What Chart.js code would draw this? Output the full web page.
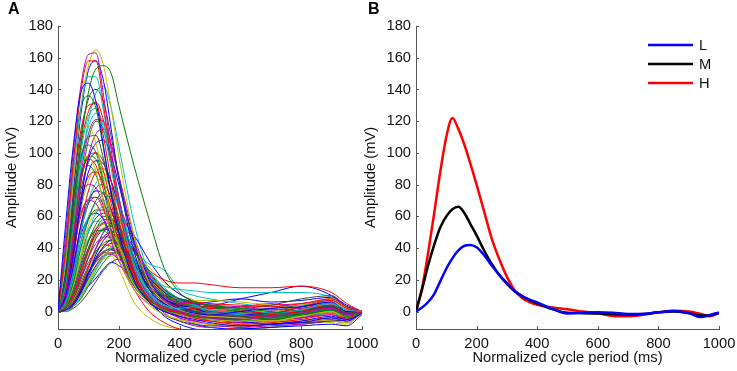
<!DOCTYPE html>
<html><head><meta charset="utf-8">
<script src="https://cdn.jsdelivr.net/npm/chart.js@4.4.1/dist/chart.umd.min.js"></script>
<style>
html,body{margin:0;padding:0;background:#fff;width:737px;height:371px;overflow:hidden;}
#cA{position:absolute;left:0;top:0;}
#cB{position:absolute;left:360px;top:0;}
</style></head><body>
<canvas id="cA" width="380" height="371"></canvas>
<canvas id="cB" width="377" height="371"></canvas>
<script>
// ---------- Panel A data (ms sample positions + cycle amplitudes in mV) ----------
const xA = [0,25,50,75,100,125,150,175,200,250,300,350,400,450,500,600,700,800,900,950,1000];

const highCycles = [
  [0,55,104,138,144,132,104,74,50,20,6,0,-3,-5,-7,-9,-8,-6,-3,-5,-1],
  [0,20,60,105,138,153,155,150,130,92,58,27,12,6,4,2,0,-2,1,-3,-1],
  [0,38,92,138,158,158,130,95,66,26,8,2,-1,-4,-6,-8,-7,-5,-2,-4,0],
  [0,34,86,128,148,148,126,96,68,30,11,4,2,3,1,2,-1,1,5,1,0],
  [0,48,100,142,162,163,136,102,72,30,10,3,0,-2,-4,-5,-3,-1,2,-2,0],
  [0,30,80,128,155,165,155,128,98,48,18,6,1,-2,-3,-4,-6,-3,0,-3,-1],
  [0,22,68,110,134,140,132,110,85,42,16,6,2,0,-2,-3,-1,1,3,-2,0],
  [0,26,76,124,152,158,145,115,84,38,14,5,1,-1,-2,0,2,3,6,0,0],
  [0,42,94,128,136,128,102,74,50,20,6,1,-1,-3,-4,-5,-4,-2,1,-3,-1],
  [0,30,76,114,130,131,110,82,58,24,8,2,0,-2,-3,-4,-2,0,2,-2,0]
];
const midHighCycles = [
  [0,18,58,100,123,128,115,90,65,28,9,3,1,-1,-1,-2,-4,-2,1,-3,-1],
  [0,14,46,86,112,121,120,106,86,48,22,9,6,5,4,3,1,2,5,1,0],
  [0,36,82,110,117,106,84,60,42,17,6,1,-2,-4,-5,-6,-6,-3,0,-4,-1],
  [0,20,60,96,110,111,96,74,54,24,9,3,1,0,-2,-3,-2,0,3,-1,0],
  [0,10,36,70,96,106,108,98,80,45,20,8,3,0,-3,-6,-8,-7,-4,-6,-1],
  [0,28,70,98,105,100,82,60,42,18,7,2,0,-2,-4,-5,-3,-1,1,-3,-1],
  [0,14,48,82,98,100,88,68,50,22,8,3,1,2,3,1,-1,3,7,2,0],
  [0,14,50,92,116,125,118,96,72,34,12,4,1,-1,-2,-3,-2,-1,2,-2,0],
  [0,8,32,70,98,112,115,104,84,44,18,7,2,0,-1,-2,-3,-1,2,-1,0],
  [0,32,74,96,98,88,68,48,33,14,4,-2,-5,-7,-8,-9,-7,-5,-6,-7,-1],
  [0,12,42,76,94,100,94,76,56,24,6,-2,-6,-8,-9,-9,-8,-7,-6,-5,-1],
  [0,10,34,66,88,95,93,82,66,34,14,5,2,0,-1,-2,-1,0,3,-1,0]
];
const midCycles = [
  [0,24,62,86,92,86,70,52,37,16,6,1,-1,-3,-4,-4,-5,-2,0,-3,-1],
  [0,12,40,70,85,88,80,64,48,22,8,3,5,6,5,4,3,5,8,3,0],
  [0,6,24,50,70,81,84,78,65,42,24,13,7,4,1,-1,-2,-1,3,-1,0],
  [0,16,48,72,80,78,66,50,36,16,6,0,-3,-6,-8,-10,-9,-8,-6,-7,-1],
  [0,10,34,64,82,90,88,76,60,30,12,5,2,0,-1,-2,-1,4,8,2,0],
  [0,6,24,50,68,78,80,72,60,32,16,10,8,6,4,2,4,8,10,3,0],
  [0,8,28,54,70,76,74,64,50,30,16,8,4,2,-1,-2,-2,-1,2,-2,0],
  [0,4,18,40,58,70,75,70,60,32,14,10,8,6,3,0,-3,-1,4,0,0],
  [0,12,38,60,71,72,64,50,38,22,11,6,3,-1,-2,-3,-2,0,2,-1,0],
  [0,5,20,44,60,68,70,64,54,34,22,16,14,13,12,12,12,12,9,3,0],
  [0,14,42,62,70,68,58,44,32,14,5,1,-1,-3,-4,-4,-3,-1,1,-2,0],
  [0,4,16,36,54,64,68,64,54,30,16,10,8,7,7,6,4,2,6,1,0],
  [0,6,22,44,58,64,64,56,46,28,15,8,4,-1,-2,-3,-2,-1,2,-2,-1],
  [0,8,28,48,59,62,58,48,37,18,7,-3,-8,-11,-12,-11,-10,-9,-8,-9,-2],
  [0,3,12,28,44,55,60,58,50,34,20,11,6,3,-1,-2,-2,0,3,-1,0]
];
const lowCycles = [
  [0,3,10,24,38,50,56,58,54,38,26,20,18,18,17,15,15,16,12,5,0],
  [0,6,22,40,52,57,56,48,38,19,8,3,0,-2,-3,-3,-2,0,2,-2,0],
  [0,4,14,30,44,52,56,54,46,26,12,5,4,3,1,-3,-5,-4,0,-3,0],
  [0,4,16,34,46,53,55,50,42,20,6,-2,-5,-7,-8,-8,-7,-6,-7,-8,-1],
  [0,2,8,20,34,46,52,54,50,38,24,13,7,4,0,-1,-2,-1,1,-2,0],
  [0,1,4,12,24,36,45,50,52,40,22,12,7,5,6,8,6,7,9,4,0],
  [0,5,18,34,45,51,51,46,38,20,8,3,1,-1,-2,-3,-2,0,2,-2,0],
  [0,1,6,16,28,40,47,50,48,38,23,12,6,2,-2,-3,-4,-2,0,-3,-1],
  [0,1,6,16,28,40,47,50,48,38,30,26,14,10,8,5,3,4,6,2,0],
  [0,3,10,22,34,43,47,47,42,26,12,1,-4,-6,-5,-7,-6,-4,-2,-5,-1],
  [0,2,7,16,27,37,43,47,45,34,20,11,6,3,-1,-2,-2,-1,1,-2,0],
  [0,1,4,12,22,33,41,45,46,39,25,14,7,3,-2,-3,-3,-1,1,-2,0],
  [0,1,5,13,24,34,41,45,42,28,16,10,7,5,4,8,12,16,10,3,0],
  [0,2,8,18,29,38,43,45,42,32,19,10,5,1,-3,-3,-4,-2,1,-2,0],
  [0,1,5,13,24,34,40,43,43,32,17,7,5,4,2,3,5,2,4,-2,0],
  [0,0,3,9,17,26,34,40,43,38,26,15,8,4,-1,-2,-2,0,2,-1,0],
  [0,3,10,21,31,38,42,41,36,22,10,-1,-6,-9,-10,-8,-6,-7,-5,-3,-1],
  [0,1,4,10,19,28,35,40,41,34,22,13,7,4,0,-1,-2,-1,1,-1,0],
  [0,2,6,14,24,32,37,40,38,30,18,10,5,2,-1,-2,-3,-1,2,-2,0],
  [0,1,5,12,21,29,35,39,37,25,12,4,0,-2,-3,-4,-3,-1,1,-2,0],
  [0,0,3,8,16,24,31,36,38,31,18,8,2,0,-2,-5,-4,-2,3,-1,0],
  [0,2,6,14,24,32,37,37,32,14,0,-7,-11,-12,-12,-10,-8,-6,-4,-4,-1],
  [0,1,4,11,20,28,34,37,35,24,11,3,-1,-3,-4,-5,-4,-2,0,-3,-1],
  [0,2,7,15,24,31,35,36,33,26,16,9,5,2,-2,-3,-2,-1,1,-2,0],
  [0,1,4,10,18,27,33,35,27,6,-4,-9,-11,-13,-13,-12,-10,-8,-5,-4,-1],
  [0,0,2,6,12,19,26,31,33,30,21,13,8,5,0,-1,-1,1,3,-1,0],
  [0,2,6,11,16,21,27,31,29,20,8,1,-2,-4,-5,-4,-2,3,6,0,0]
];
const extraCycles = [
  [0,18,54,84,98,96,80,60,44,20,8,2,-1,-3,-5,-6,-5,-3,0,-3,-1],
  [0,6,26,54,76,88,90,82,68,44,24,13,8,4,1,0,-1,1,4,0,0],
  [0,3,14,32,50,62,66,62,52,28,12,4,0,-3,-5,-6,-5,-4,-1,-4,-1],
  [0,9,30,54,68,72,68,58,46,24,10,5,3,2,2,3,4,5,7,2,0],
  [0,2,9,22,36,47,53,54,49,36,21,11,5,1,-4,-5,-5,-3,0,-3,-1],
  [0,4,13,27,40,49,52,50,44,28,14,7,4,3,3,2,1,3,5,1,0],
  [0,1,5,14,27,40,50,56,58,48,32,19,11,6,0,-1,-2,0,3,-1,0],
  [0,12,42,80,108,120,114,94,72,34,12,4,0,-2,-3,-4,-5,-3,0,-3,-1],
  [0,24,66,104,126,132,120,96,70,30,10,3,0,-2,-3,-2,-1,1,4,0,0],
  [0,16,50,90,120,138,142,128,104,56,24,10,4,1,-1,-2,-3,-1,2,-2,0],
  [0,2,10,24,38,48,52,50,44,26,10,2,-3,-6,-8,-9,-8,-7,-5,-6,-1],
  [0,1,3,9,18,28,37,43,46,40,28,18,11,7,2,1,0,2,4,1,0],
  [0,5,17,35,50,59,62,58,49,28,12,5,2,1,0,1,2,4,8,3,0],
  [0,1,6,15,25,33,38,39,36,24,11,2,-4,-8,-10,-11,-10,-8,-6,-5,-1],
  [0,3,11,25,40,52,58,58,53,38,24,14,8,4,3,1,-1,0,2,-2,0],
  [0,20,58,86,96,92,76,56,40,18,6,0,-2,-4,-6,-7,-6,-4,-1,-4,-1]
];

// ---------- Panel B data ----------
const xB = [0,20,40,60,80,100,120,140,160,180,200,225,250,275,300,325,350,375,400,450,500,550,600,650,700,750,800,850,900,940,970,1000];
const lowB  = [0,2.5,6,11,19,27,33.5,38.5,41.5,42,40.5,35.5,29,23,18,13,9.8,7.5,5.8,1.8,-1.2,-0.8,-0.5,-0.8,-1.5,-1.5,-0.5,0.3,-1,-3.5,-2.2,-0.5];
const midB  = [0,14,29,42,53,60,64.5,66,62,55,48,38.5,30,23,17.5,13,9.8,7.2,5.2,1.5,-0.8,-1,-1.2,-1.5,-2,-1.5,-0.5,0,-1,-2.5,-2.5,-1];
const highB = [0,15,37,62,88,110,122,115,105,93,80,63,46,33,22,13.5,8.5,6,4.2,2.5,1.5,0,-1,-2.8,-3,-2,-0.5,0.5,0,-1.5,-3,-0.8];
const seriesLabels = ['L','M','H'];
const seriesColors = ['#0000ff','#000000','#ff0000'];

// ---------- Shared text / ticks ----------
const xTicks = [0,200,400,600,800,1000];
const yTicks = [0,20,40,60,80,100,120,140,160,180];
const panelLabels = ['A','B'];
const xTitle = 'Normalized cycle period (ms)';
const yTitle = 'Amplitude (mV)';
const matlabColors = ['#0000ff','#008000','#ff0000','#00bfbf','#bf00bf','#bfbf00','#404040'];

const FONT = "'Liberation Sans', Arial, Helvetica, sans-serif";
const FS = 14.7;
const AXIS = '#555555';
const TXT = '#111111';

const inwardTicks = {
  id: 'inwardTicks',
  afterDraw(chart) {
    const {ctx, chartArea: a, scales: {x, y}} = chart;
    ctx.save();
    ctx.strokeStyle = AXIS; ctx.lineWidth = 1;
    ctx.beginPath();
    x.ticks.forEach(t => { const px = Math.round(x.getPixelForValue(t.value)) + 0.5; ctx.moveTo(px, a.bottom); ctx.lineTo(px, a.bottom - 3); });
    y.ticks.forEach(t => { const py = Math.round(y.getPixelForValue(t.value)) + 0.5; ctx.moveTo(a.left, py); ctx.lineTo(a.left + 3, py); });
    ctx.stroke();
    ctx.restore();
  }
};
const panelLabel = {
  id: 'panelLabel',
  afterDraw(chart, args, opts) {
    const ctx = chart.ctx;
    ctx.save();
    ctx.fillStyle = '#000';
    ctx.font = "bold 16px " + FONT;
    ctx.textBaseline = 'alphabetic';
    ctx.textAlign = 'left';
    ctx.fillText(opts.text, 8, 14);
    ctx.restore();
  }
};
const lineLegend = {
  id: 'lineLegend',
  afterDraw(chart, args, opts) {
    if (!opts.show) return;
    const ctx = chart.ctx;
    ctx.save();
    chart.data.datasets.forEach((ds, i) => {
      const y = 45 + i * 19;
      ctx.strokeStyle = ds.borderColor; ctx.lineWidth = 2.5;
      ctx.beginPath(); ctx.moveTo(288, y); ctx.lineTo(333, y); ctx.stroke();
      ctx.fillStyle = TXT; ctx.font = FS + "px " + FONT;
      ctx.textBaseline = 'middle'; ctx.textAlign = 'left';
      ctx.fillText(ds.label, 339, y + 1);
    });
    ctx.restore();
  }
};

function makeScales(yWidth, yTitlePad) {
  return {
    x: {
      type: 'linear', min: 0, max: 1000,
      afterBuildTicks: s => { s.ticks = xTicks.map(v => ({value: v})); },
      grid: {display: true, drawOnChartArea: false, drawTicks: false, color: AXIS},
      border: {display: true, color: AXIS, width: 1},
      ticks: {color: TXT, font: {family: FONT, size: FS}, padding: 6, maxRotation: 0, autoSkip: false, callback: v => String(v)},
      title: {display: true, text: xTitle, color: TXT, font: {family: FONT, size: FS}, padding: {top: 0, bottom: 4}},
      afterFit: s => { s.height = 42; s.paddingLeft = 0; s.paddingRight = 0; }
    },
    y: {
      type: 'linear', min: -11, max: 180,
      afterBuildTicks: s => { s.ticks = yTicks.map(v => ({value: v})); },
      grid: {display: true, drawOnChartArea: false, drawTicks: false, color: AXIS},
      border: {display: true, color: AXIS, width: 1},
      ticks: {color: TXT, font: {family: FONT, size: FS}, padding: 5, callback: v => String(v)},
      title: {display: true, text: yTitle, color: TXT, font: {family: FONT, size: FS}, padding: {top: yTitlePad, bottom: 0}},
      afterFit: s => { s.width = yWidth; s.paddingTop = 0; s.paddingBottom = 0; }
    }
  };
}

const allCycles = [...highCycles, ...midHighCycles, ...midCycles, ...lowCycles, ...extraCycles];
const dsA = allCycles.map((vals, i) => ({
  data: vals.map((v, j) => ({x: xA[j], y: v})),
  borderColor: matlabColors[i % matlabColors.length],
  borderWidth: 1, pointRadius: 0, fill: false,
  cubicInterpolationMode: 'monotone'
}));

new Chart(document.getElementById('cA'), {
  type: 'line',
  data: {datasets: dsA},
  options: {
    responsive: false, animation: false, devicePixelRatio: 1,
    layout: {padding: {left: 0, top: 26, right: 18, bottom: 0}},
    scales: makeScales(58, 3),
    plugins: {legend: {display: false}, tooltip: {enabled: false}, panelLabel: {text: panelLabels[0]}, lineLegend: {show: false}}
  },
  plugins: [inwardTicks, panelLabel, lineLegend]
});

const seriesB = [lowB, midB, highB];
const dsB = seriesB.map((vals, i) => ({
  label: seriesLabels[i],
  data: vals.map((v, j) => ({x: xB[j], y: v})),
  borderColor: seriesColors[i],
  borderWidth: 2.5, pointRadius: 0, fill: false,
  cubicInterpolationMode: 'monotone'
}));

new Chart(document.getElementById('cB'), {
  type: 'line',
  data: {datasets: dsB},
  options: {
    responsive: false, animation: false, devicePixelRatio: 1,
    layout: {padding: {left: 0, top: 26, right: 18, bottom: 0}},
    scales: makeScales(56, 2),
    plugins: {legend: {display: false}, tooltip: {enabled: false}, panelLabel: {text: panelLabels[1]}, lineLegend: {show: true}}
  },
  plugins: [inwardTicks, panelLabel, lineLegend]
});
</script>
</body></html>
